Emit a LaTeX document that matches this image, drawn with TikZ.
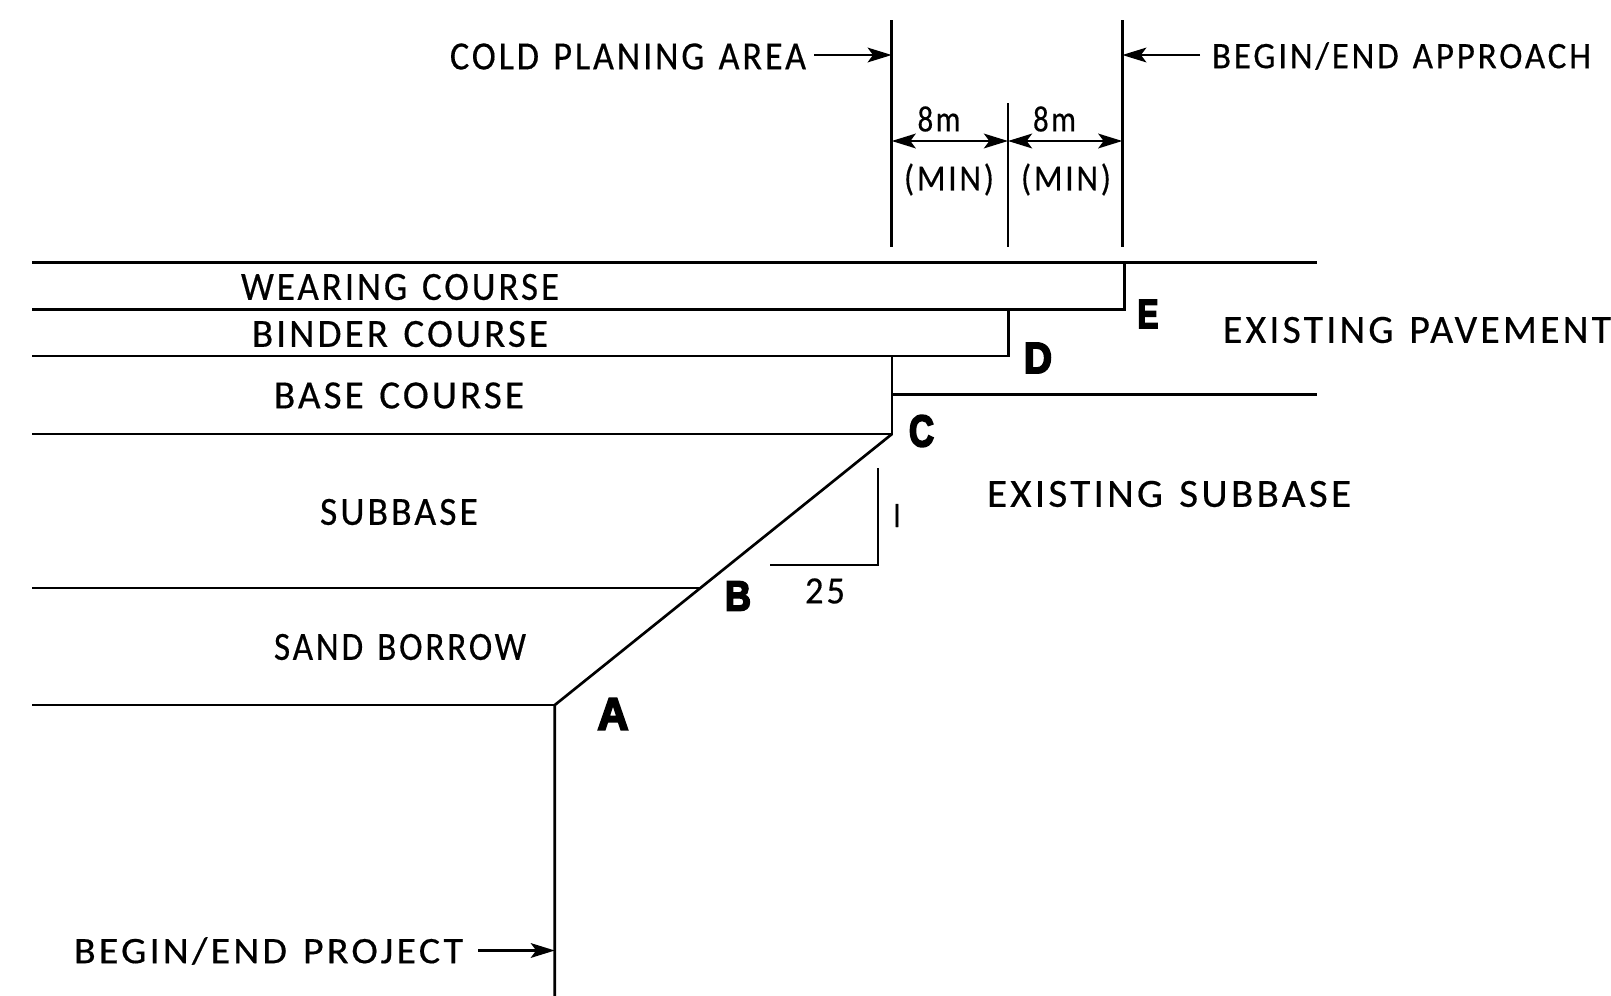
\documentclass[tikz,border=0pt]{standalone}
\usepackage{fontspec}
\usepackage{graphicx}
\usetikzlibrary{arrows.meta}
\newfontfamily\cadfont[LetterSpace=8,WordSpace=1.3,FakeBold=0.4]{Carlito}
\newfontfamily\tagfont[FakeBold=4.5]{Liberation Sans Bold}
\newdimen\px \px=0.75pt
% #1 target width, #2 target height, in reference pixels
\newcommand{\cad}[3]{\resizebox{#1\px}{#2\px}{\cadfont #3}}
\newcommand{\tagletter}[3]{\resizebox{#1\px}{#2\px}{\tagfont #3}}
\tikzset{
  ln/.style={line width=2pt},
  headtip/.style={Stealth[length=18pt,width=11pt,inset=4pt]},
  dimarrow/.style={line width=2pt,-{Stealth[length=18pt,width=11pt,inset=4pt]}},
  dimboth/.style={line width=2pt,{Stealth[length=18pt,width=11pt,inset=4pt]}-{Stealth[length=18pt,width=11pt,inset=4pt]}},
  txt/.style={inner sep=0pt,outer sep=0pt,anchor=center},
}
\begin{document}
\begin{tikzpicture}[x=0.75pt,y=-0.75pt]
\useasboundingbox (0,0) rectangle (1611,996);
% points of the profile
\coordinate (L1) at (32,262.7);   \coordinate (R1) at (1317,262.7);
\coordinate (L2) at (32,309.5);   \coordinate (E1) at (1124.3,262.7); \coordinate (E2) at (1124.3,309.5);
\coordinate (L3) at (32,356);     \coordinate (D1) at (1008.3,309.5); \coordinate (D2) at (1008.3,356);
\coordinate (L4) at (32,434);     \coordinate (C1) at (892,356);      \coordinate (C2) at (892,434);
\coordinate (X1) at (892,394.3);  \coordinate (X2) at (1317,394.3);
\coordinate (L5) at (32,588);     \coordinate (B1) at (699.5,588);
\coordinate (L6) at (32,705);     \coordinate (A1) at (554.8,705);    \coordinate (A2) at (554.8,996);
% dimension verticals
\coordinate (V1t) at (891.7,20);  \coordinate (V1b) at (891.7,247);
\coordinate (V2t) at (1008,103);  \coordinate (V2b) at (1008,247);
\coordinate (V3t) at (1122.3,20); \coordinate (V3b) at (1122.3,247);
\draw[ln] (L1) -- (R1);
\draw[ln] (E1) -- (E2) -- (L2);
\draw[ln] (D1) -- (D2) -- (L3);
\draw[ln] (L4) -- (C2) -- (C1);
\draw[ln] (X1) -- (X2);
\draw[ln] (L5) -- (B1);
\draw[ln] (L6) -- (A1);
\draw[ln,line join=round] (C2) -- (A1) -- (A2);
\draw[ln] (V1t) -- (V1b);
\draw[ln] (V2t) -- (V2b);
\draw[ln] (V3t) -- (V3b);
% slope mark
\coordinate (S1) at (878,468); \coordinate (S2) at (878,565); \coordinate (S3) at (770,565);
\draw[ln] (S1) -- (S2) -- (S3);
% arrows
\coordinate (a1) at (814,55);    \coordinate (a1t) at (891.7,55);
\coordinate (a2) at (1200,55);   \coordinate (a2t) at (1122.3,55);
\coordinate (a3) at (478,950.5); \coordinate (a3t) at (554.8,950.5);
\coordinate (d1) at (891.7,141); \coordinate (d2) at (1008,141); \coordinate (d3) at (1122.3,141);
\draw[dimarrow] (a1) -- (a1t);
\draw[dimarrow] (a2) -- (a2t);
\draw[dimarrow] (a3) -- (a3t);
\draw[dimboth] (d1) -- (d2);
\draw[dimboth] (d2) -- (d3);
% labels
\node[txt] (tcold) at (628,56.5) {\cad{356}{26}{COLD PLANING AREA}};
\node[txt] (tappr) at (1401.5,56) {\cad{379}{26}{BEGIN/END APPROACH}};
\node[txt] (t8a) at (939,119) {\cad{43}{25}{8m}};
\node[txt] (t8b) at (1054.5,119) {\cad{43}{25}{8m}};
\node[txt] (tmina) at (949,179.5) {\cad{90}{27}{(MIN)}};
\node[txt] (tminb) at (1066,179.5) {\cad{90}{27}{(MIN)}};
\node[txt] (twear) at (400,287) {\cad{318}{26}{WEARING COURSE}};
\node[txt] (tbind) at (400,334) {\cad{296}{26}{BINDER COURSE}};
\node[txt] (tbase) at (399,395.5) {\cad{250}{26}{BASE COURSE}};
\node[txt] (tsub) at (399,512) {\cad{158}{26}{SUBBASE}};
\node[txt] (tsand) at (400,647) {\cad{252}{26}{SAND BORROW}};
\node[txt] (tpave) at (1417,330) {\cad{388}{26}{EXISTING PAVEMENT}};
\node[txt] (tesub) at (1169,494) {\cad{364}{26}{EXISTING SUBBASE}};
\node[txt] (t25) at (825,591) {\cad{40}{25}{25}};
\node[txt] (t1) at (897,515.5) {\cad{7}{23}{I}};
\node[txt] (tproj) at (268.5,951) {\cad{389}{26}{BEGIN/END PROJECT}};
\node[txt] (lA) at (613,714) {\tagletter{31}{31}{A}};
\node[txt] (lB) at (738,596) {\tagletter{26}{29}{B}};
\node[txt] (lC) at (921.5,431) {\tagletter{25}{31}{C}};
\node[txt] (lD) at (1038,358) {\tagletter{28}{30}{D}};
\node[txt] (lE) at (1148,314) {\tagletter{21}{28}{E}};
\end{tikzpicture}
\end{document}
